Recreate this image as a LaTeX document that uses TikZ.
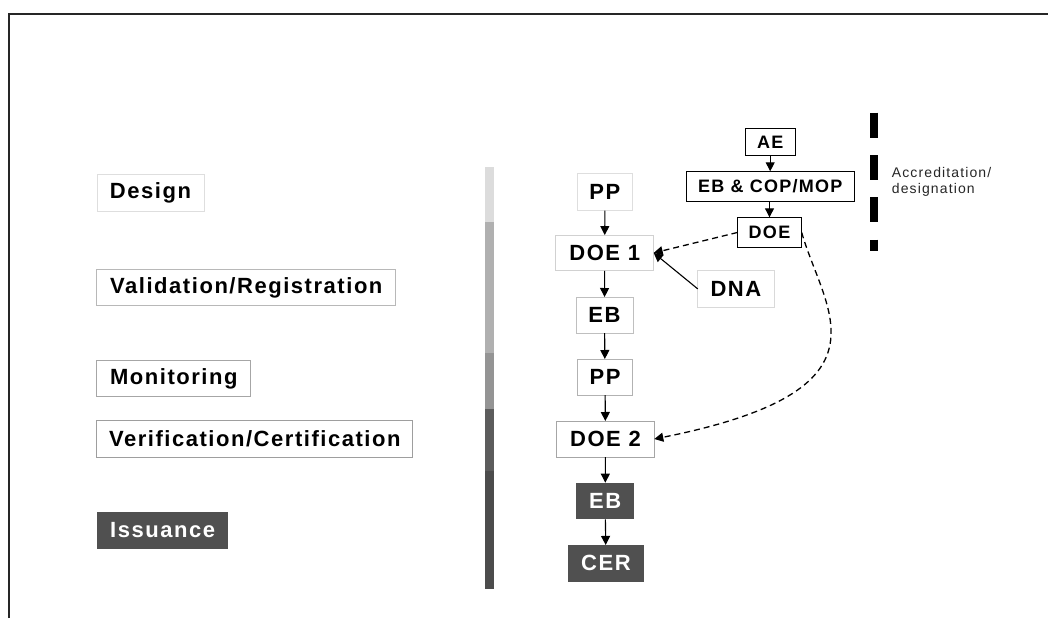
\documentclass[tikz,border=0pt]{standalone}
\usepackage{fontspec}
\setmainfont{Liberation Sans}
\newfontfamily\labfont{Liberation Sans}[LetterSpace=7]
\newfontfamily\smfont{Liberation Sans}[LetterSpace=8]
\usetikzlibrary{arrows.meta}
\definecolor{darkfill}{HTML}{505050}
\definecolor{barA}{HTML}{DCDCDC}
\definecolor{barB}{HTML}{B0B0B0}
\definecolor{barC}{HTML}{949494}
\definecolor{barD}{HTML}{5C5C5C}
\definecolor{barE}{HTML}{4C4C4C}
\tikzset{
  box/.style={draw=#1, line width=1pt, fill=white, inner sep=0pt, outer sep=0pt, align=center,
    font=\labfont\bfseries\fontsize{22}{26}\selectfont},
  box/.default={black!20},
  topbox/.style={draw=black, line width=1pt, fill=white, inner sep=0pt, outer sep=0pt,
    font=\labfont\bfseries\fontsize{18}{22}\selectfont},
  darkbox/.style={draw=none, fill=darkfill, text=white, inner sep=0pt, outer sep=0pt,
    font=\labfont\bfseries\fontsize{22}{26}\selectfont},
  arr/.style={draw=black, line width=1.1pt, -{Triangle[length=9pt,width=9pt]}},
  darr/.style={arr, line width=1.3pt, dash pattern=on 6pt off 4pt}
}
\begin{document}
\begin{tikzpicture}[x=1pt,y=-1pt]
\useasboundingbox (0,0) rectangle (1048,618);
% frame
\draw[line width=2pt, black!85] (9,618) -- (9,14.5) -- (1048,14.5);
% phase bar
\fill[barA] (485,166.7) rectangle (494,221.7);
\fill[barB] (485,221.7) rectangle (494,352.7);
\fill[barC] (485,352.7) rectangle (494,408.7);
\fill[barD] (485,408.7) rectangle (494,470.7);
\fill[barE] (485,470.7) rectangle (494,588.7);
% left phase labels
\node[box={black!13}, minimum width=107pt, minimum height=36.7pt] (design) at (150.5,193.3) {Design};
\node[box={black!28}, minimum width=298.7pt, minimum height=36.7pt] (valid) at (246.3,287.5) {Validation/Registration};
\node[box={black!35}, minimum width=153.7pt, minimum height=36.4pt] (monit) at (173.8,378.5) {Monitoring};
\node[box={black!38}, minimum width=315.7pt, minimum height=36.6pt] (verif) at (254.8,439) {Verification/Certification};
\node[darkbox, minimum width=131.3pt, minimum height=36.4pt] (issu) at (162.7,530.5) {Issuance};
% right column
\node[box={black!13}, minimum width=55.7pt, minimum height=36.7pt] (pp1) at (604.9,192.3) {PP};
\node[box={black!18}, minimum width=98pt, minimum height=35.7pt] (doe1) at (604.7,252.9) {DOE 1};
\node[box={black!15}, minimum width=76.3pt, minimum height=36.3pt] (dna) at (735.9,288.9) {DNA};
\node[box={black!25}, minimum width=57pt, minimum height=36pt] (eb1) at (604.5,315) {EB};
\node[box={black!30}, minimum width=55.4pt, minimum height=36pt] (pp2) at (605,377) {PP};
\node[box={black!35}, minimum width=97.6pt, minimum height=36pt] (doe2) at (605.5,439) {DOE 2};
\node[darkbox, minimum width=58.3pt, minimum height=36.6pt] (ebd) at (605.2,501) {EB};
\node[darkbox, minimum width=76.3pt, minimum height=36.7pt] (cer) at (605.9,563.3) {CER};
% accreditation column
\node[topbox, minimum width=49.7pt, minimum height=27.7pt] (ae) at (770.2,142) {AE};
\node[topbox, minimum width=167.7pt, minimum height=30.5pt] (ebcop) at (770.2,186.5) {EB \& COP/MOP};
\node[topbox, minimum width=64.4pt, minimum height=30.4pt] (does) at (769.5,232.5) {DOE};
% accreditation marker
\draw[line width=7.7pt, black, dash pattern=on 25pt off 17.3pt] (874,112.7) -- (874,251);
\node[anchor=north west, inner sep=0pt, align=left, text=black!85,
  font=\smfont\fontsize{14}{15.8}\selectfont] (accr) at (891.7,167.5) {Accreditation/\\designation};
% connectors
\draw[arr] (pp1) -- (doe1);
\draw[arr] (doe1) -- (eb1);
\draw[arr] (eb1) -- (pp2);
\draw[arr] (pp2) -- (doe2);
\draw[arr] (doe2) -- (ebd);
\draw[arr] (ebd) -- (cer);
\draw[arr] (ae) -- (ebcop);
\draw[arr] (ebcop.south -| does.north) -- (does);
\draw[arr] (dna.west) -- (doe1.east);
\draw[darr] (does.west) -- (doe1.east);
\draw[darr] (does.east) .. controls (824,311) and (900,390) .. (doe2.east);
\end{tikzpicture}
\end{document}
